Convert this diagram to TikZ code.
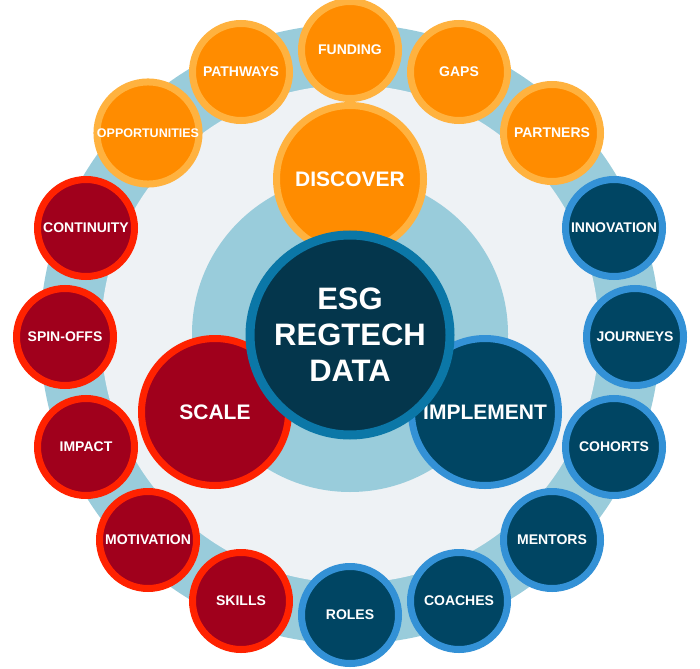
\documentclass[tikz,border=0pt]{standalone}
\usepackage{fontspec}
\setmainfont{Liberation Sans}
\usepackage{xcolor}
\usepackage{tikz}
\definecolor{ringblue}{HTML}{99CCDB}
\definecolor{paper}{HTML}{EEF2F5}
\definecolor{orangefill}{HTML}{FF8C00}
\definecolor{orangerim}{HTML}{FFB23F}
\definecolor{redfill}{HTML}{A0001C}
\definecolor{redrim}{HTML}{FF2200}
\definecolor{bluefill}{HTML}{004563}
\definecolor{bluerim}{HTML}{3391D6}
\definecolor{corefill}{HTML}{04364C}
\definecolor{corerim}{HTML}{0B77A7}
\tikzset{
  bubble/.style={circle,minimum size=97pt,inner sep=0pt,line width=7pt,text=white,
    font=\bfseries\fontsize{14}{16}\selectfont},
  discbubble/.style={bubble,fill=orangefill,draw=orangerim},
  scalebubble/.style={bubble,fill=redfill,draw=redrim},
  implbubble/.style={bubble,fill=bluefill,draw=bluerim},
  stage/.style={circle,minimum size=147pt,inner sep=0pt,line width=7pt,text=white,
    font=\bfseries\fontsize{21}{24}\selectfont},
  core/.style={circle,minimum size=200pt,inner sep=0pt,line width=9pt,text=white,
    fill=corefill,draw=corerim,align=center,font=\bfseries\fontsize{31}{36}\selectfont},
}

\begin{document}
\begin{tikzpicture}[x=1pt,y=-1pt]
  \useasboundingbox (0,0) rectangle (700,668);
  % background rings
  \fill[ringblue] (350,334) circle[radius=310pt];
  \fill[paper] (350,334) circle[radius=249pt];
  \fill[ringblue] (350,334) circle[radius=158pt];

  % outer bubbles, clockwise from the top
  \node[discbubble] (funding) at (350,50) {FUNDING};
  \node[discbubble] (gaps) at (459,72) {GAPS};
  \node[discbubble] (partners) at (552,133) {PARTNERS};
  \node[implbubble] (innovation) at (614,228) {INNOVATION};
  \node[implbubble] (journeys) at (635,337) {JOURNEYS};
  \node[implbubble] (cohorts) at (614,447) {COHORTS};
  \node[implbubble] (mentors) at (552,540) {MENTORS};
  \node[implbubble] (coaches) at (459,601) {COACHES};
  \node[implbubble] (roles) at (350,615) {ROLES};
  \node[scalebubble] (skills) at (241,601) {SKILLS};
  \node[scalebubble] (motivation) at (148,540) {MOTIVATION};
  \node[scalebubble] (impact) at (86,447) {IMPACT};
  \node[scalebubble] (spinoffs) at (65,337) {SPIN-OFFS};
  \node[scalebubble] (continuity) at (86,228) {CONTINUITY};
  \node[discbubble,font=\bfseries\fontsize{12.5}{14}\selectfont] (opportunities) at (148,133) {OPPORTUNITIES};
  \node[discbubble] (pathways) at (241,72) {PATHWAYS};

  % stages
  \node[stage,fill=orangefill,draw=orangerim] (discover) at (350,179) {DISCOVER};
  \node[stage,fill=redfill,draw=redrim] (scale) at (215,412) {SCALE};
  \node[stage,fill=bluefill,draw=bluerim] (implement) at (485,412) {IMPLEMENT};

  % core
  \node[core] (esg) at (350,335) {ESG\\REGTECH\\DATA};
\end{tikzpicture}
\end{document}
